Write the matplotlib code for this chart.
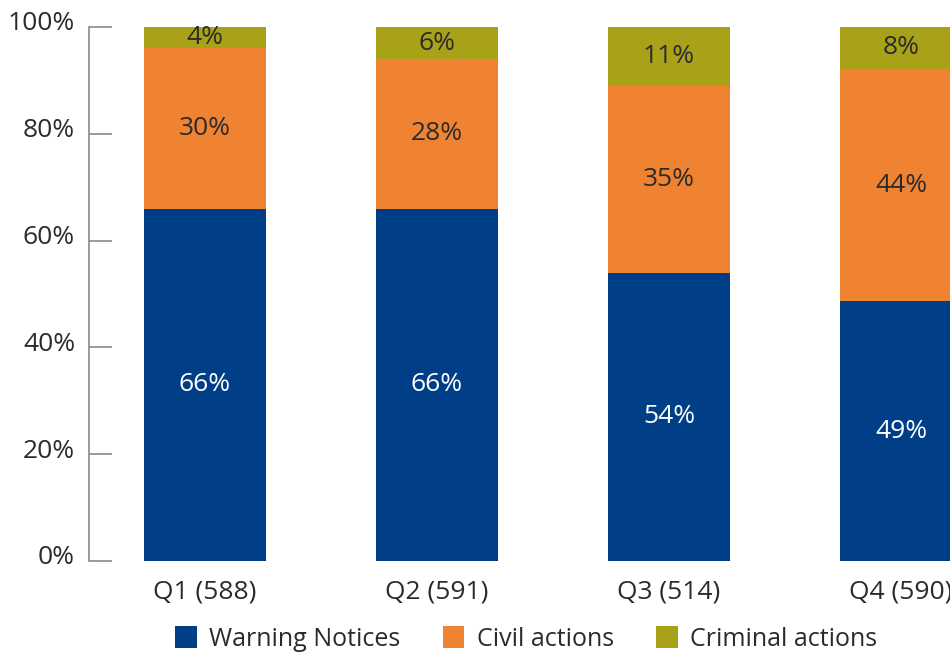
import matplotlib.pyplot as plt
import matplotlib.transforms as mtransforms
import numpy as np

# Data
quarters = ["Q1 (588)", "Q2 (591)", "Q3 (514)", "Q4 (590)"]
warning_notices = [66, 66, 54, 48.6]
civil_actions = [30, 28, 35, 43.6]
criminal_actions = [4, 6, 11, 7.8]
series_names = ["Warning Notices", "Civil actions", "Criminal actions"]
colors = ["#003F87", "#F08331", "#A9A219"]

plt.rcParams["font.family"] = ["Open Sans", "DejaVu Sans"]
text_color = "#2b2b2b"

fig = plt.figure(figsize=(9.5, 6.53), dpi=100)
ax = fig.add_axes([89 / 950, 92 / 653, 1 - 89 / 950, 534 / 653])

x = np.arange(len(quarters))
width = 0.526
bottom = np.zeros(len(quarters))
for values, name, color in zip([warning_notices, civil_actions, criminal_actions], series_names, colors):
    values = np.array(values, dtype=float)
    ax.bar(x, values, width, bottom=bottom, color=color, label=name, linewidth=0)
    for xi, b, v in zip(x, bottom, values):
        ax.text(xi, b + v / 2, f"{v:.0f}%", ha="center", va="center",
                fontsize=19, color="white" if color == "#003F87" else text_color)
    bottom += values

ax.set_xlim(-0.5, 3.211)
ax.set_ylim(0, 100)
ax.set_xticks(x)
ax.set_xticklabels(quarters, fontsize=19, color=text_color)
ax.set_yticks(np.arange(0, 101, 20))
ax.set_yticklabels([f"{v}%" for v in range(0, 101, 20)], fontsize=19, color=text_color)
ax.tick_params(axis="x", length=0, pad=13)
ax.tick_params(axis="y", direction="in", length=16.5, width=1.1, color="#808080", pad=10)

# shift y tick labels up a bit as in the original
offset = mtransforms.ScaledTranslation(0, 6 / 100, fig.dpi_scale_trans)
for lbl in ax.get_yticklabels():
    lbl.set_transform(lbl.get_transform() + offset)

for side in ["top", "right", "bottom"]:
    ax.spines[side].set_visible(False)
ax.spines["left"].set_color("#808080")
ax.spines["left"].set_linewidth(1.1)

fig.legend(loc="center", bbox_to_anchor=(0.554, 0.022), ncol=3, frameon=False,
           fontsize=18, handlelength=0.85, handleheight=1.0, handletextpad=0.5,
           columnspacing=1.7, labelcolor=text_color)

fig.savefig("out.png", dpi=100)
